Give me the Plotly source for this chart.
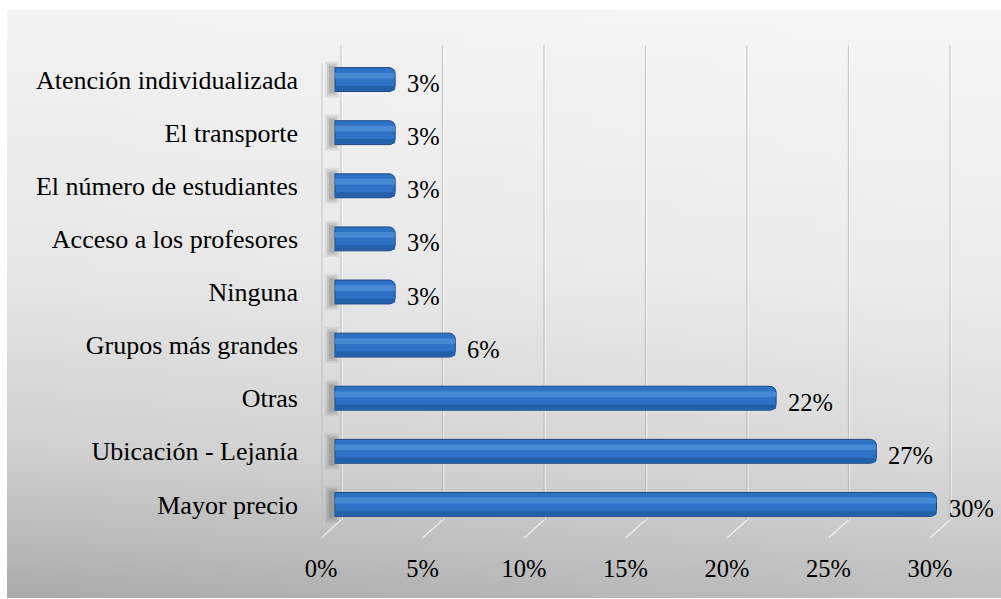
import base64
import plotly.graph_objects as go

# Survey answers, listed top to bottom as they appear on the chart
categories = [
    "Atención individualizada",
    "El transporte",
    "El número de estudiantes",
    "Acceso a los profesores",
    "Ninguna",
    "Grupos más grandes",
    "Otras",
    "Ubicación - Lejanía",
    "Mayor precio",
]
percentages = [3, 3, 3, 3, 3, 6, 22, 27, 30]
tick_values = [0, 5, 10, 15, 20, 25, 30]
tick_labels = ["0%", "5%", "10%", "15%", "20%", "25%", "30%"]

W, H = 1001, 599
ML, MR, MT, MB = 321, 41, 53, 68
PW = W - ML - MR
PH = H - MT - MB
SERIF = "Liberation Serif"

# pixel scales of the bar plane and of the front (label) plane
BAR_ZERO, BAR_SCALE = 335, 20.05
FRONT_ZERO, FRONT_SCALE = 321, 20.3
DEPTH_PX_X, DEPTH_PX_Y = 20, 18

bar_range = [(ML - BAR_ZERO) / BAR_SCALE, (ML + PW - BAR_ZERO) / BAR_SCALE]
front_range = [(ML - FRONT_ZERO) / FRONT_SCALE, (ML + PW - FRONT_ZERO) / FRONT_SCALE]


def py(pixel_y):
    return (MT + PH - pixel_y) / PH


def ux(pixel_x):
    return (pixel_x - FRONT_ZERO) / FRONT_SCALE


fig = go.Figure()

# cylinder-like bars: body, lower shade and upper highlight
fig.add_trace(go.Bar(
    x=percentages, y=categories, orientation="h", width=0.45, offset=-0.225,
    marker=dict(color="#2d72c5", line=dict(color="#1b4680", width=1), cornerradius=6),
    hoverinfo="x+y", showlegend=False,
))
fig.add_trace(go.Bar(
    x=percentages, y=categories, orientation="h", width=0.09, offset=0.12,
    marker=dict(color="#2260aa", line=dict(width=0), cornerradius=3),
    hoverinfo="skip", showlegend=False,
))
fig.add_trace(go.Bar(
    x=percentages, y=categories, orientation="h", width=0.11, offset=-0.13,
    marker=dict(color="#4d8fd8", line=dict(width=0), cornerradius=4),
    opacity=0.8, hoverinfo="skip", showlegend=False,
))
# invisible trace carrying the front axis labels
fig.add_trace(go.Scatter(x=[0, 30], y=[categories[0], categories[-1]], xaxis="x2",
                         mode="markers", marker=dict(opacity=0), hoverinfo="skip",
                         showlegend=False))

shapes = []
depth_units = DEPTH_PX_X / FRONT_SCALE
for v in tick_values:
    back = v + depth_units
    # back-wall gridline (shadow + light edge) and floor diagonal
    shapes.append(dict(type="line", xref="x2", yref="paper", x0=back, x1=back,
                       y0=py(45), y1=py(520), line=dict(color="rgba(170,170,170,0.55)", width=1.2),
                       layer="below"))
    shapes.append(dict(type="line", xref="x2", yref="paper", x0=back + 1.3 / FRONT_SCALE,
                       x1=back + 1.3 / FRONT_SCALE, y0=py(45), y1=py(520),
                       line=dict(color="rgba(255,255,255,0.6)", width=1), layer="below"))
    shapes.append(dict(type="line", xref="x2", yref="paper", x0=back, x1=v,
                       y0=py(520), y1=py(520 + DEPTH_PX_Y),
                       line=dict(color="rgba(245,245,245,0.9)", width=1.3), layer="below"))

# left side wall front edge
shapes.append(dict(type="line", xref="x2", yref="paper", x0=ux(322), x1=ux(322), y0=py(45 + DEPTH_PX_Y),
                   y1=py(538), line=dict(color="rgba(185,185,185,0.8)", width=1), layer="below"))
# soft shadows cast by the bars on the side wall
for i, c in enumerate(categories):
    for half_w, half_h, alpha in [(7, 0.34, 0.10), (5, 0.30, 0.14), (3, 0.26, 0.20)]:
        shapes.append(dict(type="rect", xref="x2", yref="y",
                           x0=ux(332 - half_w), x1=ux(332 + half_w),
                           y0=i - half_h, y1=i + half_h,
                           fillcolor=f"rgba(80,80,80,{alpha})", line=dict(width=0),
                           layer="below"))

annotations = [
    dict(x=v, y=c, xref="x", yref="y", text=f"{v}%", showarrow=False, xanchor="left",
         xshift=10, yshift=-4, font=dict(family=SERIF, size=24.5, color="#000"))
    for c, v in zip(categories, percentages)
]

svg = (
    "<svg xmlns='http://www.w3.org/2000/svg' width='994' height='588' preserveAspectRatio='none'>"
    "<defs><linearGradient id='g' x1='0' y1='0' x2='0' y2='1'>"
    "<stop offset='0' stop-color='#f3f3f3'/><stop offset='0.45' stop-color='#e6e6e6'/>"
    "<stop offset='0.75' stop-color='#cfcfcf'/><stop offset='1' stop-color='#aaaaaa'/>"
    "</linearGradient><linearGradient id='h' x1='0' y1='0' x2='1' y2='0'>"
    "<stop offset='0' stop-color='#ffffff' stop-opacity='0'/>"
    "<stop offset='1' stop-color='#ffffff' stop-opacity='0.25'/></linearGradient></defs>"
    "<rect width='994' height='588' fill='url(#g)'/><rect width='994' height='588' fill='url(#h)'/></svg>"
)
bg_src = "data:image/svg+xml;base64," + base64.b64encode(svg.encode()).decode()

fig.update_layout(
    width=W, height=H,
    margin=dict(l=ML, r=MR, t=MT, b=MB, pad=0),
    paper_bgcolor="white", plot_bgcolor="rgba(0,0,0,0)",
    barmode="overlay",
    font=dict(family=SERIF, color="#000"),
    xaxis=dict(range=bar_range, showgrid=False, zeroline=False, showticklabels=False,
               showline=False, fixedrange=True),
    xaxis2=dict(range=front_range, overlaying="x", side="bottom", anchor="y",
                tickvals=tick_values, ticktext=tick_labels, showgrid=False, zeroline=False,
                showline=False, ticks="", ticklabelstandoff=20,
                tickfont=dict(family=SERIF, size=24.5, color="#000")),
    yaxis=dict(type="category", categoryorder="array", categoryarray=categories,
               range=[len(categories) - 0.5, -0.5], showgrid=False, zeroline=False,
               showline=False, ticks="", ticklabelstandoff=22,
               tickfont=dict(family=SERIF, size=26, color="#000")),
    shapes=shapes,
    annotations=annotations,
    images=[dict(source=bg_src, xref="paper", yref="paper",
                 x=(7 - ML) / PW, y=py(10), sizex=(W - 7) / PW, sizey=(598 - 10) / PH,
                 xanchor="left", yanchor="top", sizing="stretch", layer="below")],
)

fig.write_html("out.html")
